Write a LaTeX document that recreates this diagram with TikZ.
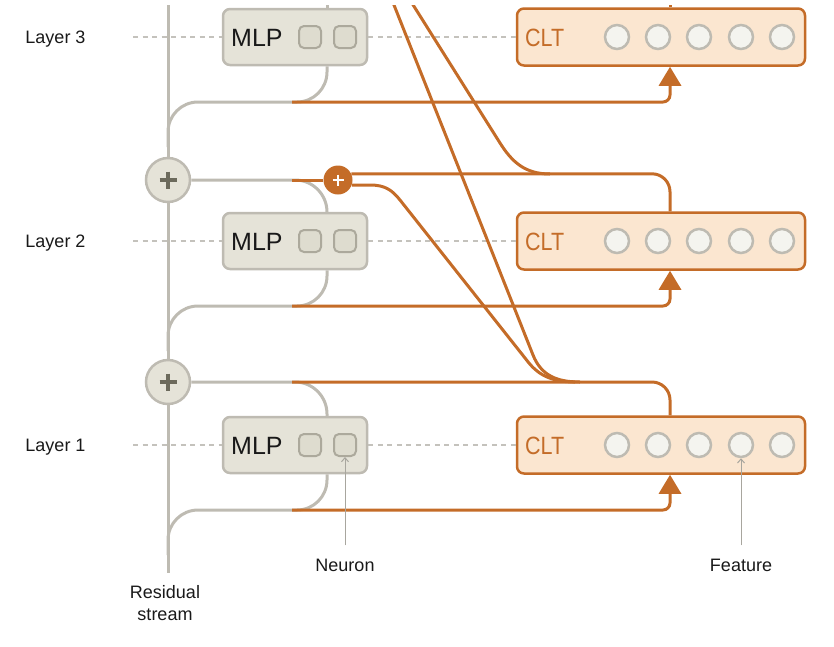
\documentclass[tikz,border=0pt]{standalone}
\usepackage{fontspec}
\setmainfont{Liberation Sans}
\usepackage{graphicx}
\usepackage{tikz}
\usetikzlibrary{arrows.meta}
\usetikzlibrary{calc}
\usetikzlibrary{positioning}

\definecolor{strm}{RGB}{190,187,178}
\definecolor{mlpfill}{RGB}{229,227,216}
\definecolor{nrnfill}{RGB}{222,220,207}
\definecolor{nrnedge}{RGB}{172,169,156}
\definecolor{cltorange}{RGB}{196,108,40}
\definecolor{cltfill}{RGB}{251,230,208}
\definecolor{featfill}{RGB}{244,244,239}
\definecolor{plusdark}{RGB}{108,106,92}
\definecolor{guidegray}{RGB}{196,194,188}
\definecolor{notegray}{RGB}{168,166,158}
\definecolor{ink}{RGB}{25,25,25}

\tikzset{>=latex}
\tikzset{
    resid/.style={draw=strm, line width=3pt},
    cltline/.style={draw=cltorange, line width=3pt},
    guide/.style={draw=guidegray, line width=1.6pt, dash pattern=on 5pt off 4.5pt},
    note/.style={draw=notegray, line width=1pt},
    mlpbox/.style={rectangle, rounded corners=7pt, draw=strm, fill=mlpfill, line width=2.5pt, minimum width=144pt, minimum height=56pt},
    cltbox/.style={rectangle, rounded corners=7pt, draw=cltorange, fill=cltfill, line width=2.5pt, minimum width=288pt, minimum height=57pt},
    neuron/.style={rectangle, rounded corners=5pt, draw=nrnedge, fill=nrnfill, line width=2pt, minimum size=22pt, inner sep=0pt},
    feat/.style={circle, draw=strm, fill=featfill, line width=2.5pt, minimum size=24pt, inner sep=0pt},
    sumnode/.style={circle, draw=strm, fill=mlpfill, line width=2.5pt, minimum size=44pt, inner sep=0pt},
    osumnode/.style={circle, fill=cltorange, minimum size=29pt, inner sep=0pt},
    lbl/.style={inner sep=0pt, text=ink, font=\fontsize{18}{22}\selectfont},
    boxlbl/.style={inner sep=0pt, anchor=base west, font=\fontsize{25}{25}\selectfont},
}

\begin{document}
\begin{tikzpicture}[x=1pt, y=-1pt]
    \def\rx{168}
    \def\tap{327}
    \def\cx{670}

    \useasboundingbox (0,0) rectangle (834,646);
    \clip (0,5) rectangle (834,646);

    % Layers
    \foreach \l/\y in {1/445, 2/241, 3/37}{
        \node[lbl, anchor=base] (lyr\l) at (55.5,\y+6) {Layer \l};
        \node[mlpbox] (mlp\l) at (295,\y) {};
        \node[boxlbl, text=ink] at (231,\y+9) {MLP};
        \node[neuron] (n\l1) at (310,\y) {};
        \node[neuron] (n\l2) at (345,\y) {};
        \node[cltbox] (clt\l) at (661,\y) {};
        \node[boxlbl, text=cltorange] at (525,\y+9) {\scalebox{0.86}[1]{CLT}};
        \foreach \i/\fx in {1/617, 2/658, 3/699, 4/741, 5/782}
            \node[feat] (f\l\i) at (\fx,\y) {};

        \coordinate (g\l) at (133,\y);
        \draw[guide] (g\l) -- (mlp\l);
        \draw[guide] (mlp\l) -- (clt\l);
    }

    % Residual stream
    \node[sumnode] (sum1) at (\rx,382) {};
    \node[sumnode] (sum2) at (\rx,180) {};
    \coordinate (rtop) at (\rx,0);
    \coordinate (rbot) at (\rx,573);
    \draw[resid] (rtop) -- (sum2);
    \draw[resid] (sum2) -- (sum1);
    \draw[resid] (sum1) -- (rbot);
    \foreach \s in {sum1,sum2}{
        \draw[plusdark, line width=3.5pt] ($(\s)+(-8.5,0)$) -- ($(\s)+(8.5,0)$);
        \draw[plusdark, line width=3.5pt] ($(\s)+(0,-8.5)$) -- ($(\s)+(0,8.5)$);
    }

    % Inputs to MLP and CLT
    \foreach \l/\y in {1/445, 2/241, 3/37}{
        \draw[resid, rounded corners=30pt] (\rx,\y+110) -- (\rx,\y+65) -- (\tap,\y+65) -- ($(mlp\l.south)+(32,0)$);
        \draw[cltline, rounded corners=7pt, -{Triangle[length=19pt,width=22pt]}] (292,\y+65) -- (\cx,\y+65) -- ($(clt\l.south)+(9,0)$);
    }

    % Outputs back to the stream
    \draw[resid, rounded corners=32pt] (sum1) -- (\tap,382) -- ($(mlp1.north)+(32,0)$);
    \draw[resid, rounded corners=32pt] (sum2) -- (\tap,180) -- ($(mlp2.north)+(32,0)$);
    \draw[resid] ($(mlp3.north)+(32,0)$) -- (\tap,0);

    \coordinate (c1) at ($(clt1.north)+(9,0)$);
    \coordinate (c2) at ($(clt2.north)+(9,0)$);
    \coordinate (c3) at ($(clt3.north)+(9,0)$);
    \draw[cltline, rounded corners=18pt] (c1) -- (\cx,382) -- (292,382);
    \node[osumnode] (osum) at (338,180) {};
    \draw[white, line width=2.5pt] ($(osum)+(-5.5,0)$) -- ($(osum)+(5.5,0)$);
    \draw[white, line width=2.5pt] ($(osum)+(0,-5.5)$) -- ($(osum)+(0,5.5)$);
    \draw[cltline] (292,180) -- (osum);
    \draw[cltline, rounded corners=18pt] (osum.25) -- (osum.25 -| c2) -- (c2);
    \draw[cltline] (c3) -- (\cx,0);

    % Cross-layer outputs
    \coordinate (topA) at (392,0);
    \coordinate (topB) at (410,0);
    \draw[cltline] (osum.-20) -- (370,185) .. controls (385,185) and (392,190) .. (400,200) -- (525,358) .. controls (534,370) and (545,382) .. (575,382);
    \draw[cltline] (topA) -- (533,355) .. controls (541,375) and (556,382) .. (580,382);
    \draw[cltline] (topB) -- (500,143) .. controls (512,162) and (525,174) .. (550,174);

    % Labels
    \node[lbl, anchor=base] (nrnlbl) at (345,571) {Neuron};
    \node[lbl, anchor=base] (featlbl) at (741,571) {Feature};
    \node[lbl, anchor=north, align=center] (reslbl) at (165,585) {Residual\\stream};
    \draw[note, -{Straight Barb[length=4pt,width=7pt]}] ([yshift=13pt]nrnlbl.north) -- (n12.south);
    \draw[note, -{Straight Barb[length=4pt,width=7pt]}] ([yshift=13pt]featlbl.north) -- (f14.south);
\end{tikzpicture}
\end{document}
